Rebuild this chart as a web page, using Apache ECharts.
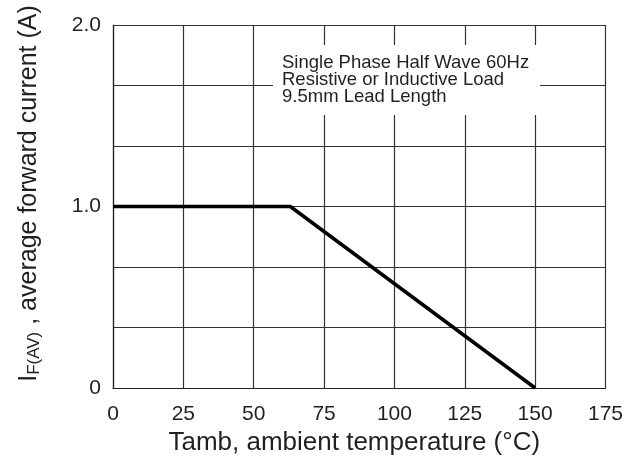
<!DOCTYPE html>
<html>
<head>
<meta charset="utf-8">
<script src="https://cdn.jsdelivr.net/npm/echarts@6/dist/echarts.min.js"></script>
<style>
  html, body { margin: 0; padding: 0; background: #fff; }
  #chart { width: 626px; height: 464px; }
</style>
</head>
<body>
<div id="chart"></div>
<script>
// derating curve: temperature (°C) vs average forward current (A)
const temps = [0, 63, 150];
const currents = [1.0, 1.0, 0];
const noteLines = [
  'Single Phase Half Wave 60Hz',
  'Resistive or Inductive Load',
  '9.5mm Lead Length'
];

const chart = echarts.init(document.getElementById('chart'));
const font = 'Liberation Sans, Arial, Helvetica, sans-serif';
const textColor = '#231f20';

chart.setOption({
  animation: false,
  backgroundColor: '#fff',
  grid: { left: 113, right: 20, top: 25, bottom: 76, containLabel: false },
  xAxis: {
    type: 'value',
    min: 0,
    max: 175,
    interval: 25,
    name: 'Tamb, ambient temperature (°C)',
    nameLocation: 'middle',
    nameGap: 42,
    nameTextStyle: { fontFamily: font, fontSize: 26, color: textColor, padding: [0, 10, 0, 0] },
    axisLine: { show: true, lineStyle: { color: '#231f20', width: 1.2 } },
    axisTick: { show: false },
    axisLabel: { fontFamily: font, fontSize: 21, color: textColor, margin: 16 },
    splitLine: { show: true, lineStyle: { color: '#333', width: 1.2 } }
  },
  yAxis: {
    type: 'value',
    min: 0,
    max: 2,
    interval: 1 / 3,
    name: '{i|I}{sub|F(AV)} {t|, average forward current (A)}',
    nameLocation: 'middle',
    nameGap: 70,
    nameTextStyle: {
      fontFamily: font, fontSize: 25, color: textColor,
      padding: [0, 0, 0, 26],
      rich: {
        i: { fontFamily: font, fontSize: 25, color: textColor },
        sub: { fontFamily: font, fontSize: 17, color: textColor, verticalAlign: 'bottom', padding: [10, 0, 0, 0] },
        t: { fontFamily: font, fontSize: 25, color: textColor }
      }
    },
    axisLine: { show: true, lineStyle: { color: '#231f20', width: 1.2 } },
    axisTick: { show: false },
    axisLabel: {
      fontFamily: font, fontSize: 21, color: textColor, margin: 12,
      formatter: function (v) {
        const r = Math.round(v);
        if (Math.abs(v - r) > 1e-6) return '';
        return r === 0 ? '0' : r.toFixed(1);
      }
    },
    splitLine: { show: true, lineStyle: { color: '#333', width: 1.2 } }
  },
  series: [{
    type: 'line',
    data: temps.map((t, i) => [t, currents[i]]),
    symbol: 'none',
    lineStyle: { color: '#000', width: 3.5 },
    z: 3
  }],
  graphic: [
    {
      type: 'rect',
      shape: { x: 273, y: 45, width: 267, height: 70 },
      style: { fill: '#fff' },
      z: 10
    },
    {
      type: 'text',
      left: 282,
      top: 53,
      style: {
        text: noteLines.join('\n'),
        font: '18.5px ' + font,
        fill: textColor,
        lineHeight: 17
      },
      z: 11
    }
  ]
});
</script>
</body>
</html>
